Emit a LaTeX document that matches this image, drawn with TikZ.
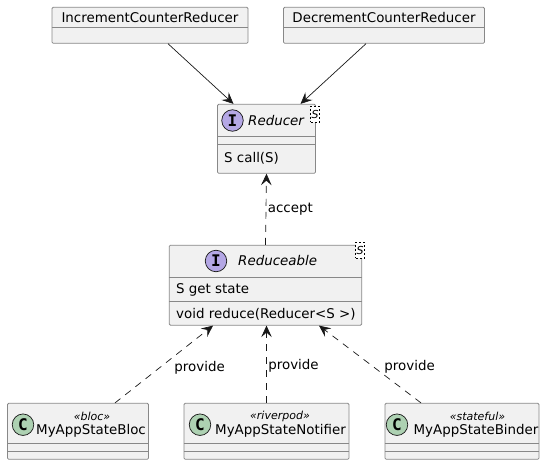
\documentclass[tikz,border=0pt]{standalone}
\usepackage{fontspec}
\setmainfont{DejaVu Sans}
\newfontfamily\spotfont{DejaVu Sans Mono}
\usetikzlibrary{arrows.meta}

\definecolor{boxfill}{HTML}{F1F1F1}
\definecolor{boxedge}{HTML}{888888}
\definecolor{inkline}{HTML}{181818}
\definecolor{ifacefill}{HTML}{B4A7E5}
\definecolor{classfill}{HTML}{ADD1B2}

\tikzset{
  umlbox/.style={draw=boxedge,fill=boxfill,line width=.8pt,rounded corners=1.2pt,inner sep=0pt},
  divider/.style={draw=boxedge,line width=.8pt},
  label/.style={font=\fontsize{13.4}{15}\selectfont,text=black,inner sep=0pt},
  ilabel/.style={label,font=\fontsize{13.4}{15}\itshape\selectfont},
  stereo/.style={font=\fontsize{11}{13}\itshape\selectfont,text=black,inner sep=0pt},
  spot/.style={circle,draw=inkline,line width=.7pt,minimum size=21.5pt,inner sep=0pt,font=\fontsize{16}{18}\spotfont\bfseries\selectfont},
  tparam/.style={draw=black,dash pattern=on 2pt off 2pt,line width=.6pt,fill=white,inner sep=0pt,font=\fontsize{11}{12}\itshape\selectfont},
  assoc/.style={draw=inkline,line width=.7pt,-{Stealth[inset=4.5pt,length=11.5pt,width=10.5pt]}},
  dashassoc/.style={assoc,dash pattern=on 7pt off 6pt}
}

\begin{document}
\begin{tikzpicture}[x=1pt,y=-1pt]
  \useasboundingbox (0,0) rectangle (546,465);

  % top row
  \node[umlbox,minimum width=196pt,minimum height=36pt] (inc) at (150,25.3) {};
  \node[umlbox,minimum width=201pt,minimum height=36pt] (dec) at (384,25.3) {};
  \draw[divider] (inc.west |- 0,27.3) -- (inc.east |- 0,27.3);
  \draw[divider] (dec.west |- 0,27.3) -- (dec.east |- 0,27.3);
  \node[label] (inctext) at (150,18) {IncrementCounterReducer};
  \node[label] (dectext) at (384,18) {DecrementCounterReducer};

  % reducer
  \node[umlbox,minimum width=98pt,minimum height=69pt] (reducer) at (266.5,138.8) {};
  \draw[divider] (reducer.west |- 0,136.3) -- (reducer.east |- 0,136.3);
  \draw[divider] (reducer.west |- 0,144.3) -- (reducer.east |- 0,144.3);
  \node[spot,fill=ifacefill] (reducerspot) at (232.5,120.5) {I};
  \node[ilabel,anchor=west] (reducertext) at (248,120.5) {Reducer};
  \node[label,anchor=west] (reducercall) at (224,158.5) {S call(S)};
  \node[tparam,minimum width=8.5pt,minimum height=16pt] (reducerS) at (315,114.5) {S};

  % reduceable
  \node[umlbox,minimum width=192.5pt,minimum height=80pt] (reduceable) at (265.5,285.2) {};
  \draw[divider] (reduceable.west |- 0,277.7) -- (reduceable.east |- 0,277.7);
  \draw[divider] (reduceable.west |- 0,301.7) -- (reduceable.east |- 0,301.7);
  \node[spot,fill=ifacefill] (reduceablespot) at (216,261) {I};
  \node[ilabel,anchor=west] (reduceabletext) at (238,261) {Reduceable};
  \node[label,anchor=west] (getstate) at (176,290) {S get state};
  \node[label,anchor=west] (reducecall) at (176,314) {void reduce(Reducer<S >)};
  \node[tparam,minimum width=8.5pt,minimum height=16pt] (reduceableS) at (360,250) {S};

  % bottom row
  \node[umlbox,minimum width=141pt,minimum height=56pt] (bloc) at (78,431.3) {};
  \node[umlbox,minimum width=165pt,minimum height=56pt] (notifier) at (266.5,431.3) {};
  \node[umlbox,minimum width=154pt,minimum height=56pt] (binder) at (462,431.3) {};
  \foreach \boxname in {bloc,notifier,binder} {
    \draw[divider] (\boxname.west |- 0,443.3) -- (\boxname.east |- 0,443.3);
    \draw[divider] (\boxname.west |- 0,451.3) -- (\boxname.east |- 0,451.3);
  }
  \node[spot,fill=classfill] (blocspot) at (23,424.7) {C};
  \node[spot,fill=classfill] (notifierspot) at (200,424.7) {C};
  \node[spot,fill=classfill] (binderspot) at (397,424.7) {C};
  \node[stereo] (blocstereo) at (92,416) {«bloc»};
  \node[stereo] (notifierstereo) at (280,416) {«riverpod»};
  \node[stereo] (binderstereo) at (477.5,416) {«stateful»};
  \node[label] (bloctext) at (91,431) {MyAppStateBloc};
  \node[label] (notifiertext) at (280.5,431) {MyAppStateNotifier};
  \node[label] (bindertext) at (476,431) {MyAppStateBinder};

  % connectors
  \draw[assoc] ([xshift=18pt]inc.south) -- ([xshift=-33pt]reducer.north);
  \draw[assoc] ([xshift=-18pt]dec.south) -- ([xshift=34pt]reducer.north);
  \draw[dashassoc] (reduceable.north) -- node[label,anchor=west,pos=.52,xshift=1.5pt,yshift=-1pt] (accept) {accept} (reducer.south);
  \draw[dashassoc] ([xshift=37pt]bloc.north) -- node[label,anchor=west,pos=.47,xshift=13pt,yshift=-1pt] (provideA) {provide} ([xshift=-52.5pt]reduceable.south);
  \draw[dashassoc] (notifier.north) -- node[label,anchor=west,pos=.48,xshift=1.5pt] (provideB) {provide} ([xshift=1pt]reduceable.south);
  \draw[dashassoc] ([xshift=-41pt]binder.north) -- node[label,anchor=west,pos=.47,xshift=11pt] (provideC) {provide} ([xshift=53.5pt]reduceable.south);
\end{tikzpicture}
\end{document}
